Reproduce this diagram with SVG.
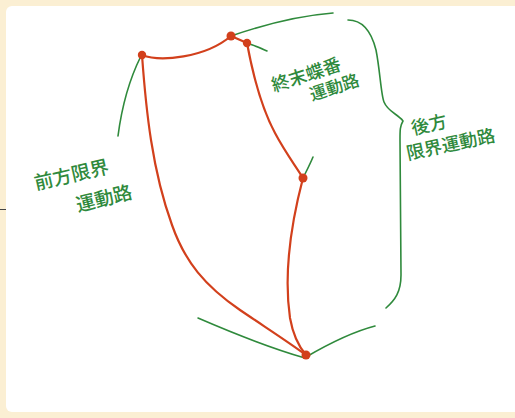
<svg xmlns="http://www.w3.org/2000/svg" width="515" height="418" viewBox="0 0 515 418">
<style>
.g{fill:none;stroke:#2f8a3c;stroke-width:1.6;stroke-linecap:round;stroke-linejoin:round}
.r{fill:none;stroke:#d2401c;stroke-width:2.2;stroke-linecap:round;stroke-linejoin:round}
.dot{fill:#d2401c}
.t{fill:#2f8a3c;font-family:"Noto Sans CJK JP","Noto Sans CJK SC",sans-serif;font-weight:500}
</style>
<rect x="0" y="0" width="515" height="418" fill="#fbefd3"/>
<rect x="6" y="6" width="520" height="406" rx="6" fill="#ffffff"/>
<line x1="0" y1="209.5" x2="6" y2="209.5" stroke="#444" stroke-width="1"/>
<g id="connectors">
<path class="g" d="M118,136 C122,105 130,78 141,56"/>
<path class="g" d="M231,36 C260,26 295,16 333,13"/>
<path class="g" d="M247,43 C255,46 261,48 267,51"/>
<path class="g" d="M305,174 C308,168 311,162 313,157"/>
<path class="g" d="M348,20 C362,20 371,30 376,50 C380,70 381,95 384,102 C388,112 398,114 403,121 C400,126 400,130 400,140 L401,275 C401,292 395,300 386,308"/>
<path class="g" d="M198,318 C235,334 270,348 305,358"/>
<path class="g" d="M306,357 C330,343 352,332 375,326"/>
<path class="r" d="M142,55 C160,62 205,58 231,36"/>
<path class="r" d="M231,36 L247,43"/>
<path class="r" d="M247,43 C252,70 260,105 275,133 C285,152 295,165 303,178"/>
<path class="r" d="M303,178 C292,220 283,270 290,318 C293,335 300,348 306,355"/>
<path class="r" d="M142,55 C146,110 152,170 172,225 C185,262 205,286 240,310 C265,327 290,343 306,355"/>
</g>
<g id="nodes">
<g id="p1"><circle class="dot" cx="142" cy="55" r="4.2"/></g>
<g id="p2"><circle class="dot" cx="231" cy="36" r="4.5"/></g>
<g id="p3"><circle class="dot" cx="247" cy="43" r="4.2"/></g>
<g id="p4"><circle class="dot" cx="303" cy="178" r="4.5"/></g>
<g id="p5"><circle class="dot" cx="306" cy="355" r="4.5"/></g>
</g>
<g id="labels">
<g id="front"><text class="t" transform="translate(36,190) rotate(-13)" font-size="19">前方限界</text>
<text class="t" transform="translate(78,212) rotate(-14)" font-size="19">運動路</text></g>
<g id="terminal"><text class="t" transform="translate(274,92) rotate(-18)" font-size="18">終末蝶番</text>
<text class="t" transform="translate(312,101) rotate(-18)" font-size="17">運動路</text></g>
<g id="back"><text class="t" transform="translate(413,135) rotate(-13)" font-size="18">後方</text>
<text class="t" transform="translate(408,160) rotate(-12)" font-size="18">限界運動路</text></g>
</g>
</svg>
